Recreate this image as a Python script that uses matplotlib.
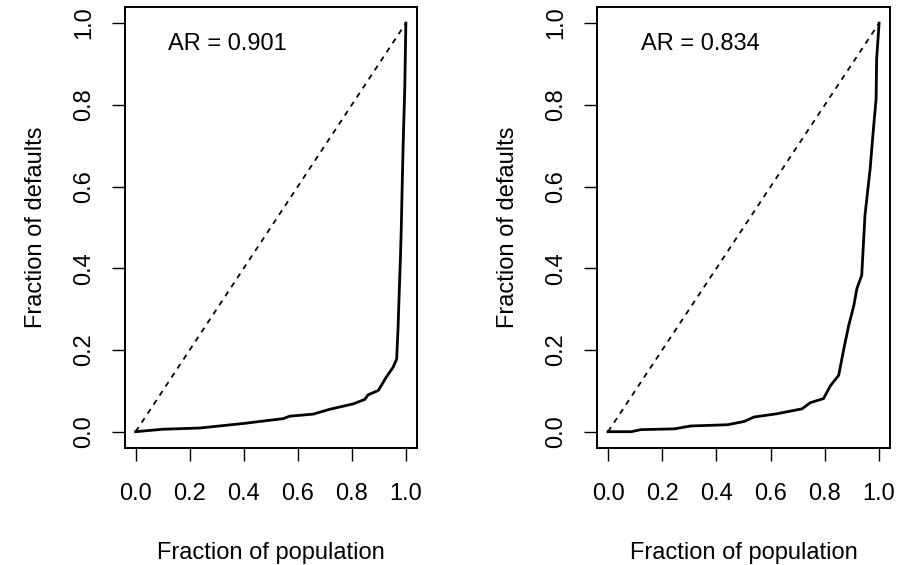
import matplotlib
matplotlib.use("Agg")
import matplotlib.pyplot as plt

plt.rcParams['font.family'] = ['Liberation Sans', 'DejaVu Sans']

# CAP curves read as (fraction of population, fraction of defaults)
pop_a = [0.0, 0.10, 0.237, 0.397, 0.546, 0.57, 0.657, 0.719, 0.805, 0.848, 0.86,
         0.898, 0.928, 0.953, 0.966, 0.971, 0.975, 0.98, 0.983, 0.986, 0.99, 0.996, 1.0]
def_a = [0.0, 0.006, 0.009, 0.02, 0.032, 0.038, 0.043, 0.055, 0.068, 0.079, 0.09,
         0.101, 0.134, 0.158, 0.178, 0.252, 0.333, 0.427, 0.496, 0.59, 0.704, 0.843, 1.0]

pop_b = [0.0, 0.085, 0.121, 0.245, 0.305, 0.44, 0.502, 0.539, 0.624, 0.716, 0.746,
         0.795, 0.82, 0.851, 0.87, 0.888, 0.907, 0.918, 0.936, 0.948, 0.967, 0.979,
         0.989, 0.991, 1.0]
def_b = [0.0, 0.0, 0.005, 0.007, 0.014, 0.017, 0.025, 0.036, 0.044, 0.056, 0.071,
         0.081, 0.112, 0.138, 0.203, 0.26, 0.309, 0.35, 0.383, 0.53, 0.643, 0.74,
         0.814, 0.912, 1.0]

ar_values = [0.901, 0.834]
ticks = [0.0, 0.2, 0.4, 0.6, 0.8, 1.0]
tick_labels = ['0.0', '0.2', '0.4', '0.6', '0.8', '1.0']

fig = plt.figure(figsize=(8.98, 5.65), dpi=100)
ax1 = fig.add_axes([0.139, 0.207, 0.325, 0.781])
ax2 = fig.add_axes([0.665, 0.207, 0.326, 0.781])

fs = 17
for ax, x, y, ar in [(ax1, pop_a, def_a, ar_values[0]), (ax2, pop_b, def_b, ar_values[1])]:
    ax.plot([0, 1], [0, 1], color='black', lw=1.3, linestyle=(0, (3, 3)))
    ax.plot(x, y, color='black', lw=2.0, solid_joinstyle='miter')
    ax.text(0.34, 0.95, 'AR = %.3f' % ar, ha='center', va='center', fontsize=fs)
    ax.set_xlim(-0.04, 1.04)
    ax.set_ylim(-0.04, 1.04)
    ax.set_xticks(ticks)
    ax.set_xticklabels(tick_labels)
    ax.set_yticks(ticks)
    ax.set_yticklabels(tick_labels, rotation=90, va='center')
    ax.tick_params(length=9.5, width=1.0, labelsize=fs, pad=12)
    ax.tick_params(axis='x', pad=16)
    for s in ax.spines.values():
        s.set_linewidth(1.4)
    ax.set_xlabel('Fraction of population', fontsize=fs, labelpad=26)
    ax.set_ylabel('Fraction of defaults', fontsize=fs, labelpad=19)

fig.savefig('out.png', dpi=100)
